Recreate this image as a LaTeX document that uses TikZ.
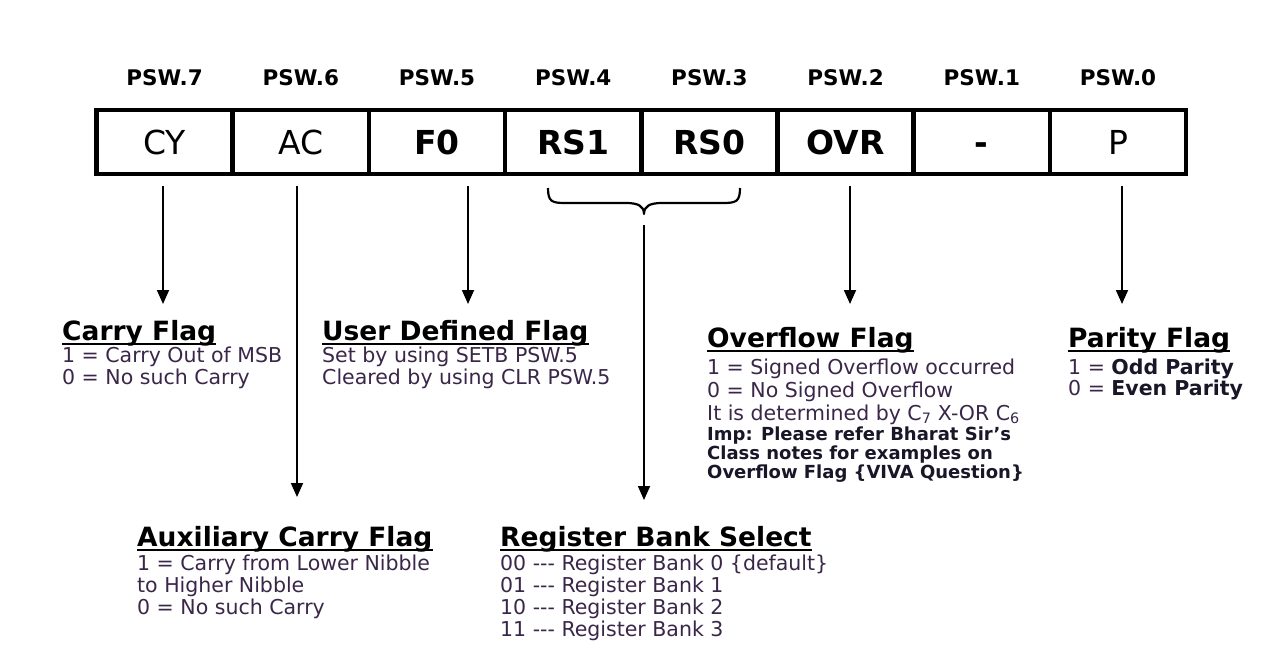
\documentclass[tikz,border=0pt]{standalone}
\usepackage{fontspec}
\setmainfont{DejaVu Sans}
\usetikzlibrary{arrows.meta}
\definecolor{bodyink}{RGB}{58,38,72}
\definecolor{noteink}{RGB}{25,22,40}
\begin{document}
\begin{tikzpicture}[x=1pt,y=-1pt,
  cell/.style={draw, line width=4.5pt, minimum width=136.2pt, minimum height=64pt,
    inner sep=0pt, outer sep=0pt, text height=24pt, text depth=0pt,
    font=\fontsize{33}{36}\selectfont},
  boldcell/.style={cell, font=\bfseries\fontsize{33}{36}\selectfont},
  bitlbl/.style={font=\bfseries\fontsize{21.5}{24}\selectfont, inner sep=0pt, anchor=base},
  head/.style={font=\bfseries\fontsize{26.5}{28}\selectfont, inner sep=0pt, anchor=base west},
  txt/.style={font=\fontsize{20.5}{22}\selectfont, text=bodyink, inner sep=0pt, anchor=base west},
  note/.style={font=\bfseries\fontsize{18}{20}\selectfont, text=noteink, inner sep=0pt, anchor=base west},
  arr/.style={line width=1.8pt, -{Triangle[length=14pt,width=12pt]}},
  uline/.style={line width=2.5pt}
]
\useasboundingbox (0,0) rectangle (1274,645);

% register cells
\node[cell]     (b7) at (164.6,142) {CY};
\node[cell]     (b6) at (300.8,142) {AC};
\node[boldcell] (b5) at (437.0,142) {F0};
\node[boldcell] (b4) at (573.2,142) {RS1};
\node[boldcell] (b3) at (709.4,142) {RS0};
\node[boldcell] (b2) at (845.6,142) {OVR};
\node[boldcell] (b1) at (981.8,142) {-};
\node[cell]     (b0) at (1118.0,142) {P};

% bit labels above the cells
\foreach \i in {0,...,7}{
  \node[bitlbl] (l\i) at ([yshift=57pt]b\i.center) {PSW.\i};
}

% arrow ends
\coordinate (cyS) at (163,186);  \coordinate (cyE) at (163,304);
\coordinate (acS) at (297,186);  \coordinate (acE) at (297,497);
\coordinate (f0S) at (468,186);  \coordinate (f0E) at (468,304);
\coordinate (rsS) at (644,225);  \coordinate (rsE) at (644,500);
\coordinate (ovS) at (850,186);  \coordinate (ovE) at (850,304);
\coordinate (pS)  at (1122,186); \coordinate (pE)  at (1122,304);

\draw[arr] (cyS) -- (cyE);
\draw[arr] (acS) -- (acE);
\draw[arr] (f0S) -- (f0E);
\draw[arr] (rsS) -- (rsE);
\draw[arr] (ovS) -- (ovE);
\draw[arr] (pS) -- (pE);

% brace under RS1 / RS0
\draw[line width=2.2pt, line join=round]
  (548,188) .. controls (548,202) and (552,203) .. (566,203)
  -- (626,203) .. controls (638,203) and (644,206) .. (644,214)
  .. controls (644,206) and (650,203) .. (662,203)
  -- (722,203) .. controls (736,203) and (740,202) .. (740,188);

% Carry flag
\node[head] (cfh) at (62,340) {Carry Flag};
\draw[uline] ([yshift=-4pt]cfh.base west) -- ([yshift=-4pt]cfh.base east);
\node[txt] (cf1) at (62,362) {1 = Carry Out of MSB};
\node[txt] (cf2) at (62,384) {0 = No such Carry};

% User defined flag
\node[head] (ufh) at (322,340) {User Defined Flag};
\draw[uline] ([yshift=-4pt]ufh.base west) -- ([yshift=-4pt]ufh.base east);
\node[txt] (uf1) at (322,362) {Set by using SETB PSW.5};
\node[txt] (uf2) at (322,384) {Cleared by using CLR PSW.5};

% Overflow flag
\node[head] (ofh) at (707,347) {Overflow Flag};
\draw[uline] ([yshift=-4pt]ofh.base west) -- ([yshift=-4pt]ofh.base east);
\node[txt] (of1) at (707,374) {1 = Signed Overflow occurred};
\node[txt] (of2) at (707,397) {0 = No Signed Overflow};
\node[txt] (of3) at (707,420) {It is determined by C\textsubscript{7} X-OR C\textsubscript{6}};
\node[note] (of4) at (707,440) {Imp: Please refer Bharat Sir’s};
\node[note] (of5) at (707,459) {Class notes for examples on};
\node[note] (of6) at (707,478) {Overflow Flag \{VIVA Question\}};

% Parity flag
\node[head] (pfh) at (1068,347) {Parity Flag};
\draw[uline] ([yshift=-4pt]pfh.base west) -- ([yshift=-4pt]pfh.base east);
\node[txt] (pf1) at (1068,374) {1 = \textbf{\color{noteink}Odd Parity}};
\node[txt] (pf2) at (1068,395) {0 = \textbf{\color{noteink}Even Parity}};

% Auxiliary carry flag
\node[head] (afh) at (137,546) {Auxiliary Carry Flag};
\draw[uline] ([yshift=-4pt]afh.base west) -- ([yshift=-4pt]afh.base east);
\node[txt] (af1) at (137,570) {1 = Carry from Lower Nibble};
\node[txt] (af2) at (137,592) {to Higher Nibble};
\node[txt] (af3) at (137,614) {0 = No such Carry};

% Register bank select
\node[head] (rbh) at (500,546) {Register Bank Select};
\draw[uline] ([yshift=-4pt]rbh.base west) -- ([yshift=-4pt]rbh.base east);
\node[txt] (rb1) at (500,570) {00 -{}-{}- Register Bank 0 \{default\}};
\node[txt] (rb2) at (500,592) {01 -{}-{}- Register Bank 1};
\node[txt] (rb3) at (500,614) {10 -{}-{}- Register Bank 2};
\node[txt] (rb4) at (500,636) {11 -{}-{}- Register Bank 3};
\end{tikzpicture}
\end{document}
